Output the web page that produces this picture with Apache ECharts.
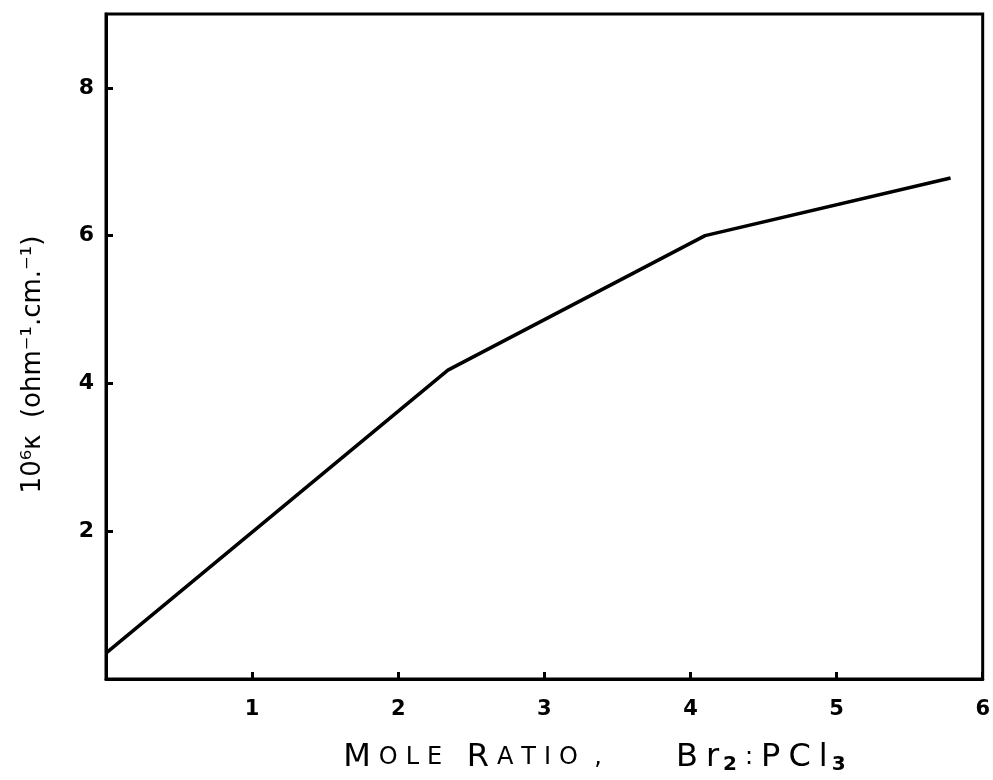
<!DOCTYPE html>
<html>
<head>
<meta charset="utf-8">
<script src="https://cdn.jsdelivr.net/npm/echarts@6/dist/echarts.min.js"></script>
<style>html,body{margin:0;padding:0;background:#fff;}#c{width:993px;height:780px;}</style>
</head>
<body>
<div id="c"></div>
<script>
const moleRatio = [0, 2.34, 4.10, 5.78];
const conductivity = [0.35, 4.18, 6.0, 6.78];
const xTickLabels = ['', '1', '2', '3', '4', '5', '6'];
const yTickLabels = ['', '', '2', '', '4', '', '6', '', '8', ''];

const chart = echarts.init(document.getElementById('c'));
const font = 'DejaVu Sans';
chart.setOption({
  animation: false,
  backgroundColor: '#fff',
  grid: { left: 106, right: 8, top: 14, bottom: 100, show: true, borderColor: '#000', borderWidth: 3, backgroundColor: 'transparent' },
  xAxis: {
    type: 'value', min: 0, max: 6, interval: 1,
    name: '{b|M}{s|O}{s|L}{s|E}  {b|R}{s|A}{s|T}{s|I}{s|O} {s|,}        {b|B}{b|r}{sub|2}{s|:}{b|P}{b|C}{b|l}{sub|3}',
    nameLocation: 'middle', nameGap: 62,
    nameTextStyle: {
      fontFamily: font, fontSize: 26, color: '#000', padding: [0, 0, 0, 100],
      rich: {
        b: { fontFamily: font, fontSize: 32, color: '#000', padding: [0, 4, 0, 4] },
        s: { fontFamily: font, fontSize: 24, color: '#000', padding: [0, 4, 0, 4] },
        sub: { fontFamily: font, fontSize: 20, color: '#000', fontWeight: 'bold', verticalAlign: 'bottom', padding: [14, 4, 0, 0] }
      }
    },
    axisLine: { show: true, lineStyle: { color: '#000', width: 3 } },
    axisTick: { show: true, inside: true, length: 7, lineStyle: { color: '#000', width: 3 } },
    axisLabel: { margin: 20, fontFamily: font, fontSize: 21, fontWeight: 'bold', color: '#000', formatter: (v) => xTickLabels[Math.round(v)] || '' },
    splitLine: { show: false }
  },
  yAxis: {
    type: 'value', min: 0, max: 9, interval: 2,
    name: '10⁶κ  (ohm⁻¹.cm.⁻¹)',
    nameLocation: 'middle', nameGap: 60,
    nameTextStyle: { fontFamily: font, fontSize: 26, color: '#000', padding: [0, 36, 0, 0] },
    axisLine: { show: true, lineStyle: { color: '#000', width: 3 } },
    axisTick: { show: true, inside: true, length: 7, lineStyle: { color: '#000', width: 3 } },
    axisLabel: { margin: 12, fontFamily: font, fontSize: 22, fontWeight: 'bold', color: '#000', showMaxLabel: false, formatter: (v) => yTickLabels[Math.round(v)] || '' },
    splitLine: { show: false }
  },
  series: [{
    type: 'line',
    data: moleRatio.map((x, i) => [x, conductivity[i]]),
    showSymbol: false,
    lineStyle: { color: '#000', width: 3.5 }
  }]
});
</script>
</body>
</html>
